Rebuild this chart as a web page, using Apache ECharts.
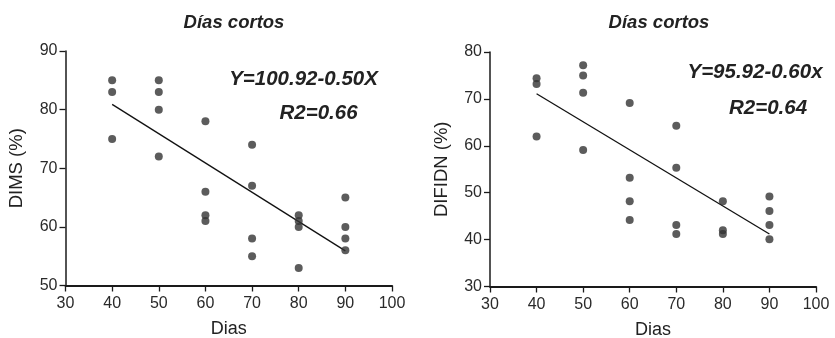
<!DOCTYPE html>
<html>
<head>
<meta charset="utf-8">
<script src="https://cdn.jsdelivr.net/npm/echarts@6/dist/echarts.min.js"></script>
<style>
html,body{margin:0;padding:0;background:#fff;}
#c{width:835px;height:338px;}
</style>
</head>
<body>
<div id="c"></div>
<script>
// ---- data ----
const titleText = 'Días cortos';
const xName = 'Dias';
const yNameLeft = 'DIMS (%)';
const yNameRight = 'DIFIDN (%)';
const xTicks = [30, 40, 50, 60, 70, 80, 90, 100];
const yTicksLeft = [50, 60, 70, 80, 90];
const yTicksRight = [30, 40, 50, 60, 70, 80];

// DIMS (%) observations [Dias, value]
const dimsPoints = [
  [40, 85], [40, 83], [40, 75],
  [50, 85], [50, 83], [50, 80], [50, 72],
  [60, 78], [60, 66], [60, 62], [60, 61],
  [70, 74], [70, 67], [70, 58], [70, 55],
  [80, 62], [80, 61], [80, 60], [80, 53],
  [90, 65], [90, 60], [90, 58], [90, 56]
];
// DIFIDN (%) observations [Dias, value]
const difidnPoints = [
  [40, 74.4], [40, 73.2], [40, 62],
  [50, 77.2], [50, 75], [50, 71.3], [50, 59.1],
  [60, 69.1], [60, 53.2], [60, 48.2], [60, 44.2],
  [70, 64.3], [70, 55.3], [70, 43.1], [70, 41.2],
  [80, 48.2], [80, 42], [80, 41.2],
  [90, 49.2], [90, 46.1], [90, 43.1], [90, 40.1]
];
// fitted line endpoints
const dimsFit = [[40, 80.9], [90, 55.9]];
const difidnFit = [[40, 71.1], [90, 41.2]];

const eqLeft = 'Y=100.92-0.50X';
const r2Left = 'R2=0.66';
const eqRight = 'Y=95.92-0.60x';
const r2Right = 'R2=0.64';

// ---- chart ----
const FONT = 'Liberation Sans, Arial, sans-serif';
const chart = echarts.init(document.getElementById('c'), null, {renderer: 'canvas'});

function xAxis(idx) {
  return {
    gridIndex: idx, type: 'value', min: 30, max: 100, interval: 10,
    name: xName, nameLocation: 'middle', nameGap: 34.5, nameMoveOverlap: false,
    nameTextStyle: {fontFamily: FONT, fontSize: 18, color: '#222'},
    axisLine: {lineStyle: {color: '#1a1a1a', width: 1.8}},
    axisTick: {show: true, length: 6, lineStyle: {color: '#1a1a1a', width: 1.3}},
    axisLabel: {fontFamily: FONT, fontSize: 16, color: '#2a2a2a', margin: 10},
    splitLine: {show: false}
  };
}
function yAxis(idx, min, max, name, gap) {
  return {
    gridIndex: idx, type: 'value', min: min, max: max, interval: 10,
    name: name, nameLocation: 'middle', nameGap: gap, nameRotate: 90, nameMoveOverlap: false,
    nameTextStyle: {fontFamily: FONT, fontSize: 18.5, color: '#222'},
    axisLine: {show: true, lineStyle: {color: '#1a1a1a', width: 1.5}},
    axisTick: {show: true, length: 6, lineStyle: {color: '#1a1a1a', width: 1.3}},
    axisLabel: {fontFamily: FONT, fontSize: 16, color: '#2a2a2a', margin: 8},
    splitLine: {show: false}
  };
}
const titleStyle = {fontFamily: FONT, fontSize: 18.5, fontWeight: 'bold', fontStyle: 'italic', color: '#222'};
const eqStyle = {fontFamily: FONT, fontSize: 20.5, fontWeight: 'bold', fontStyle: 'italic', color: '#222'};

chart.setOption({
  backgroundColor: '#fff',
  animation: false,
  title: [
    {text: titleText, left: 229, top: 8, textAlign: 'center', textStyle: titleStyle},
    {text: titleText, left: 654, top: 8, textAlign: 'center', textStyle: titleStyle},
    {text: eqLeft, left: 298.5, top: 64, textAlign: 'center', textStyle: eqStyle},
    {text: r2Left, left: 313.5, top: 98, textAlign: 'center', textStyle: eqStyle},
    {text: eqRight, left: 750, top: 57, textAlign: 'center', textStyle: eqStyle},
    {text: r2Right, left: 763, top: 93, textAlign: 'center', textStyle: eqStyle}
  ],
  grid: [
    {left: 65.5, top: 51, width: 326.5, height: 234.5, outerBoundsMode: 'none', containLabel: false},
    {left: 490, top: 52, width: 326, height: 234.5, outerBoundsMode: 'none', containLabel: false}
  ],
  xAxis: [xAxis(0), xAxis(1)],
  yAxis: [yAxis(0, 50, 90, yNameLeft, 39.5), yAxis(1, 30, 80, yNameRight, 39)],
  series: [
    {type: 'line', xAxisIndex: 0, yAxisIndex: 0, data: dimsFit, symbol: 'none',
     lineStyle: {color: '#111', width: 1.3}, z: 1},
    {type: 'scatter', xAxisIndex: 0, yAxisIndex: 0, data: dimsPoints, symbolSize: 8,
     itemStyle: {color: '#333'}, z: 2},
    {type: 'line', xAxisIndex: 1, yAxisIndex: 1, data: difidnFit, symbol: 'none',
     lineStyle: {color: '#111', width: 1.3}, z: 1},
    {type: 'scatter', xAxisIndex: 1, yAxisIndex: 1, data: difidnPoints, symbolSize: 8,
     itemStyle: {color: '#333'}, z: 2}
  ]
});
</script>
</body>
</html>
